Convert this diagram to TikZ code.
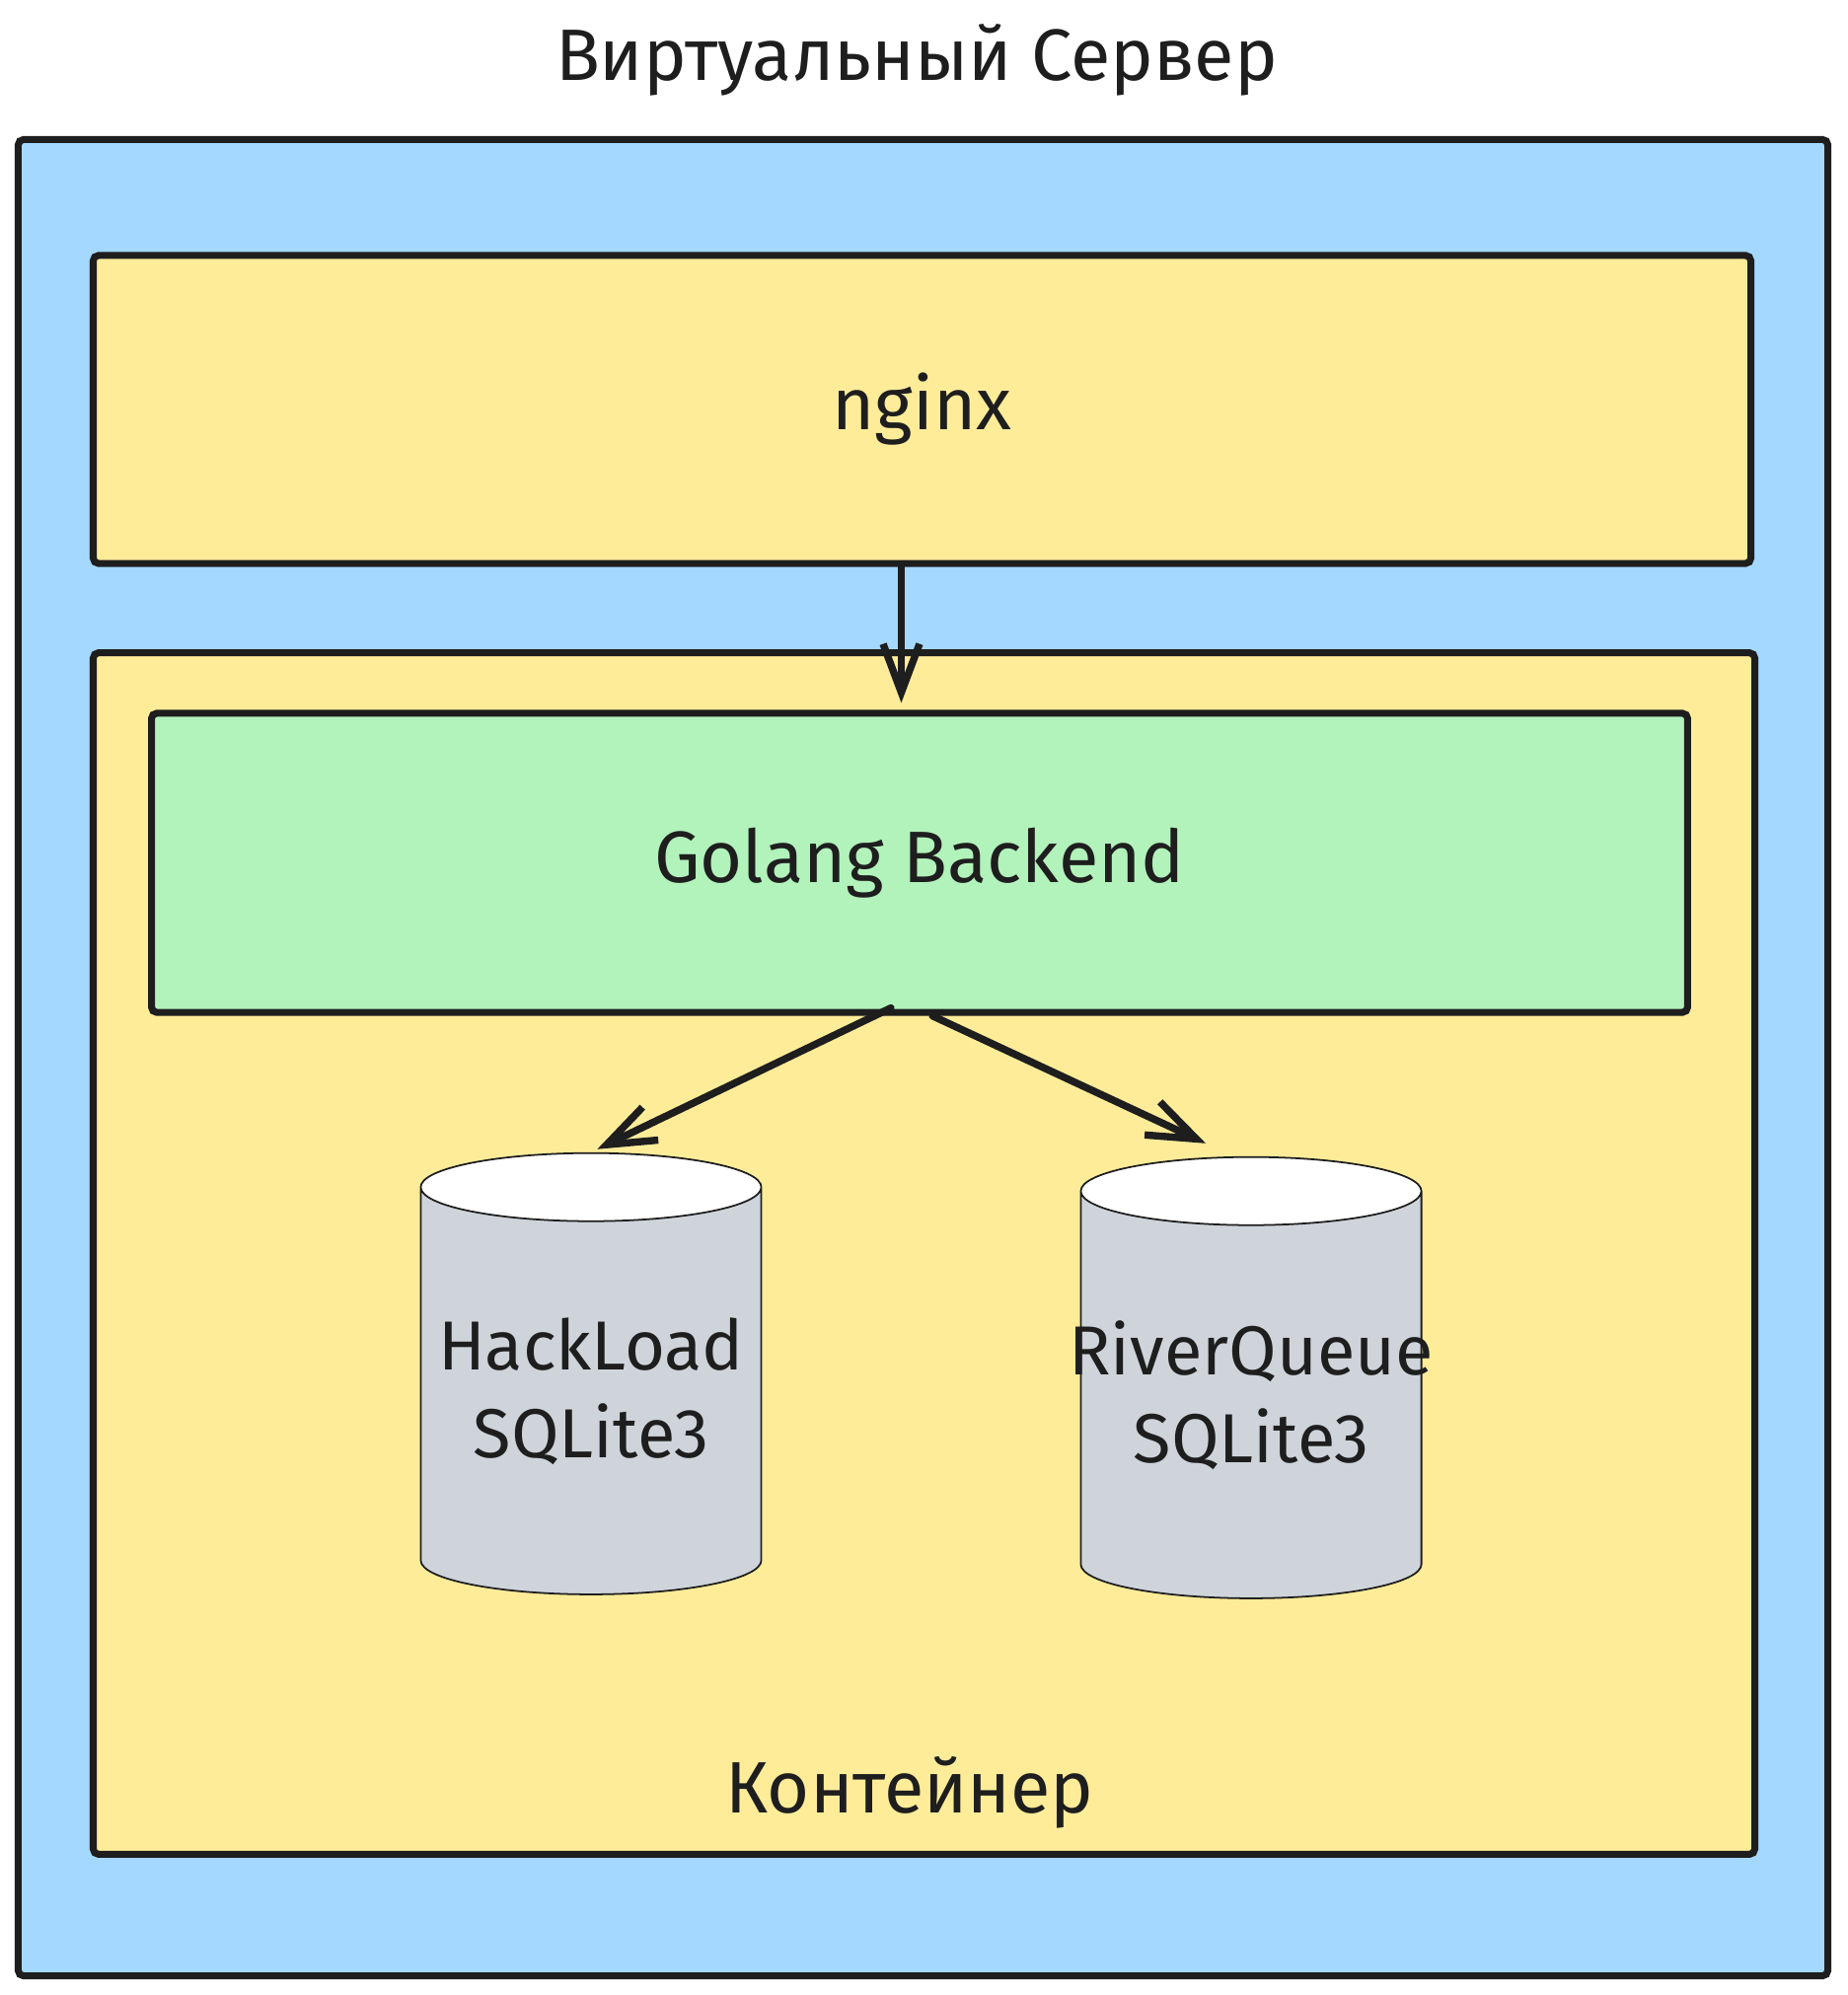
\documentclass[tikz,border=0pt]{standalone}
\usepackage{fontspec}
\setmainfont{Fira Sans}
\usepackage{tikz}
\usetikzlibrary{arrows.meta, calc, shapes.geometric}

\definecolor{serverblue}{HTML}{A5D8FF}
\definecolor{boxyellow}{HTML}{FFEC99}
\definecolor{backgreen}{HTML}{B2F2BB}
\definecolor{dbgray}{HTML}{CED4DA}
\definecolor{ink}{HTML}{1E1E1E}

\begin{document}
\begin{tikzpicture}[x=0.01cm, y=-0.01cm,
  box/.style={draw=ink, line width=2pt, rounded corners=1.5pt, inner sep=0pt, text=ink, font=\fontsize{21}{25}\selectfont},
  db/.style={cylinder, shape border rotate=90, aspect=0.2, draw=ink, line width=0.5pt, cylinder uses custom fill, cylinder body fill=dbgray, cylinder end fill=white, text width=3.45cm, minimum height=4.47cm, inner sep=0pt, align=center, text=ink, font=\fontsize{20}{25.3}\selectfont},
  link/.style={-{Straight Barb[length=14pt, width=10.5pt]}, line width=2.1pt, draw=ink, line cap=round}]
  \useasboundingbox (0,0) rectangle (1872,2022);

  \node[anchor=base, text=ink, font=\fontsize{21}{25}\selectfont] (title) at (929,82) {Виртуальный Сервер};
  \node[box, fill=serverblue, minimum width=18.33cm, minimum height=18.6cm] (server) at (935.5,1072) {};
  \node[box, fill=boxyellow, minimum width=16.79cm, minimum height=3.12cm] (nginx) at (934.5,415) {nginx};
  \node[box, fill=boxyellow, minimum width=16.83cm, minimum height=12.17cm] (container) at (936.5,1270.5) {};
  \node[anchor=base, text=ink, font=\fontsize{21}{25}\selectfont] (contlabel) at (922,1837) {Контейнер};
  \node[box, fill=backgreen, minimum width=15.56cm, minimum height=3.03cm] (golang) at (932,874.5) {Golang Backend};

  \node[db] (hack) at (599,1410) {HackLoad\\SQLite3};
  \node[db] (river) at (1268,1414) {\makebox[3.45cm]{RiverQueue}\\SQLite3};

  % connectors
  \draw[link, shorten >=2pt] ([xshift=-0.21cm]nginx.south) -- ([xshift=-0.21cm]nginx.south |- golang.north);
  \draw[link, shorten >=2pt] ([xshift=-0.29cm, yshift=0.08cm]golang.south) -- (hack.north);
  \draw[link] ([xshift=0.13cm]golang.south) -- ($(river.north)+(-46,-13)$);
\end{tikzpicture}
\end{document}
